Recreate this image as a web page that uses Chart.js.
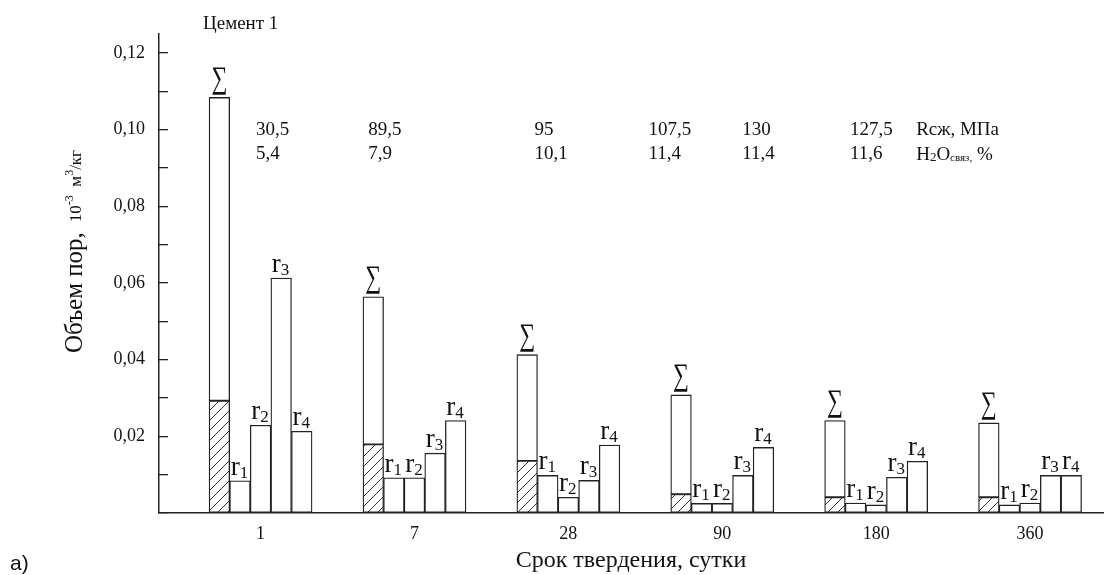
<!DOCTYPE html>
<html lang="ru">
<head>
<meta charset="utf-8">
<title>Объем пор - Цемент 1</title>
<script src="https://cdn.jsdelivr.net/npm/chart.js@4.4.1/dist/chart.umd.min.js"></script>
<style>
  html, body { margin: 0; padding: 0; background: #fff; }
  #poreChart { display: block; }
</style>
</head>
<body>
<canvas id="poreChart" width="1105" height="575"></canvas>
<script>
// Срок твердения, сутки
const days = ['1', '7', '28', '90', '180', '360'];

// Объем пор, 10^-3 м3/кг
const totalPores = [0.1084, 0.0564, 0.0413, 0.0308, 0.0241, 0.0235];
const hatchedPores = [0.0293, 0.0179, 0.0136, 0.0049, 0.0041, 0.0041];
const poresR1 = [0.0084, 0.0092, 0.0098, 0.0025, 0.0026, 0.0021];
const poresR2 = [0.0229, 0.0092, 0.0041, 0.0025, 0.0021, 0.0026];
const poresR3 = [0.0613, 0.0156, 0.0085, 0.0098, 0.0093, 0.0098];
const poresR4 = [0.0213, 0.0241, 0.0177, 0.0171, 0.0135, 0.0098];

// Rсж, МПа и H2O связ, %
const strengthLabels = ['30,5', '89,5', '95', '107,5', '130', '127,5'];
const waterLabels = ['5,4', '7,9', '10,1', '11,4', '11,4', '11,6'];

const yTickLabels = ['0,02', '0,04', '0,06', '0,08', '0,10', '0,12'];

// где стоят подписи (в единицах осей)
const noteColumns = [0.97, 1.70, 2.78, 3.52, 4.13, 4.83];
const unitsColumn = 5.26;
const noteRows = [0.0998, 0.0936];

const SERIF = '"Liberation Serif", "Times New Roman", serif';
const INK = '#111';
const LINE = '#222';

const canvas = document.getElementById('poreChart');
const ctx = canvas.getContext('2d');

// штриховка нижней части столбика
function makeHatch() {
    const c = document.createElement('canvas');
    c.width = 10;
    c.height = 10;
    const g = c.getContext('2d');
    g.fillStyle = '#fff';
    g.fillRect(0, 0, 10, 10);
    g.strokeStyle = '#333';
    g.lineWidth = 1;
    g.beginPath();
    g.moveTo(0, 10); g.lineTo(10, 0);
    g.moveTo(-1, 1); g.lineTo(1, -1);
    g.moveTo(9, 11); g.lineTo(11, 9);
    g.stroke();
    return ctx.createPattern(c, 'repeat');
}

const toPoints = (arr) => arr.map((v, i) => ({ x: i + 1, y: v }));

const barStyle = {
    backgroundColor: '#fff',
    borderColor: LINE,
    borderWidth: 1.3,
    borderSkipped: false,
    barThickness: 20.6
};

const textPlugin = {
    id: 'poreTexts',
    afterDraw(chart) {
        const { ctx, scales } = chart;
        ctx.save();
        ctx.fillStyle = INK;
        ctx.textBaseline = 'alphabetic';

        // знак суммы над общим столбиком (узкий и высокий)
        ctx.font = '28px ' + SERIF;
        ctx.textAlign = 'center';
        const sm = ctx.measureText('∑');
        chart.getDatasetMeta(1).data.forEach(bar => {
            ctx.save();
            ctx.translate(bar.x, bar.y - 3);
            ctx.scale(0.8, 1.12);
            ctx.fillText('∑', 0, -sm.actualBoundingBoxDescent);
            ctx.restore();
        });

        // r1..r4
        ctx.textAlign = 'left';
        ['1', '2', '3', '4'].forEach((n, k) => {
            chart.getDatasetMeta(k + 2).data.forEach(bar => {
                const left = bar.x - bar.width / 2 + 1;
                ctx.font = '27px ' + SERIF;
                ctx.fillText('r', left, bar.y - 6);
                const w = ctx.measureText('r').width;
                ctx.font = '17px ' + SERIF;
                ctx.fillText(n, left + w, bar.y - 3);
            });
        });

        // прочность и связанная вода
        ctx.font = '19px ' + SERIF;
        ctx.textBaseline = 'middle';
        const yTop = scales.y.getPixelForValue(noteRows[0]);
        const yBot = scales.y.getPixelForValue(noteRows[1]);
        noteColumns.forEach((col, i) => {
            const px = scales.x.getPixelForValue(col);
            ctx.fillText(strengthLabels[i], px, yTop);
            ctx.fillText(waterLabels[i], px, yBot);
        });
        const ux = scales.x.getPixelForValue(unitsColumn);
        ctx.fillText('Rсж, МПа', ux, yTop);
        let hx = ux;
        [['H', 19, 0], ['2', 13, 1], ['O', 19, 0], ['связ,', 11, 1], [' %', 19, 0]].forEach(([t, size, dy]) => {
            ctx.font = size + 'px ' + SERIF;
            ctx.textBaseline = 'alphabetic';
            ctx.fillText(t, hx, yBot + 6 + dy);
            hx += ctx.measureText(t).width;
        });

        // заголовок
        ctx.font = '19px ' + SERIF;
        ctx.textBaseline = 'middle';
        ctx.fillText('Цемент 1', 203, 24);

        // a)
        ctx.font = '21px "Liberation Sans", Arial, sans-serif';
        ctx.textBaseline = 'alphabetic';
        ctx.fillText('a)', 10, 570);

        // подпись оси Y
        ctx.translate(82, 353);
        ctx.rotate(-Math.PI / 2);
        ctx.font = '25px ' + SERIF;
        ctx.fillText('Объем пор,', 0, 0);
        let tx = ctx.measureText('Объем пор,').width + 10;
        [['10', 17, -1], ['-3', 12, -9], ['  м', 17, -1], ['3', 12, -9], ['/кг', 17, -1]].forEach(([t, size, dy]) => {
            ctx.font = size + 'px ' + SERIF;
            ctx.fillText(t, tx, dy);
            tx += ctx.measureText(t).width;
        });
        ctx.restore();
    }
};

const poreChart = new Chart(ctx, {
    type: 'bar',
    data: {
        datasets: [
            { ...barStyle, label: 'Σ (штрих)', data: toPoints(hatchedPores), stack: 'sum', backgroundColor: makeHatch() },
            { ...barStyle, label: 'Σ', data: toPoints(totalPores.map((t, i) => t - hatchedPores[i])), stack: 'sum' },
            { ...barStyle, label: 'r1', data: toPoints(poresR1), stack: 'r1' },
            { ...barStyle, label: 'r2', data: toPoints(poresR2), stack: 'r2' },
            { ...barStyle, label: 'r3', data: toPoints(poresR3), stack: 'r3' },
            { ...barStyle, label: 'r4', data: toPoints(poresR4), stack: 'r4' }
        ]
    },
    options: {
        responsive: false,
        animation: false,
        layout: { padding: { top: 32, right: 2, left: 0, bottom: 0 } },
        plugins: {
            legend: { display: false },
            tooltip: { enabled: false }
        },
        scales: {
            x: {
                type: 'linear',
                offset: false,
                min: 0.34,
                max: 6.474,
                afterBuildTicks: (scale) => {
                    scale.ticks = days.map((d, i) => ({ value: i + 1 }));
                },
                afterFit: (scale) => { scale.height = 62; },
                ticks: {
                    autoSkip: false,
                    maxRotation: 0,
                    padding: 10,
                    color: INK,
                    font: { family: SERIF, size: 18 },
                    callback: (value) => days[Math.round(value) - 1] || ''
                },
                grid: { offset: false, drawOnChartArea: false, drawTicks: false },
                border: { color: LINE, width: 1.5 },
                title: {
                    display: true,
                    text: 'Срок твердения, сутки',
                    color: INK,
                    font: { family: SERIF, size: 24 },
                    padding: { top: 0, bottom: 0 }
                }
            },
            y: {
                stacked: true,
                min: 0,
                max: 0.125,
                afterFit: (scale) => { scale.width = 159; },
                ticks: {
                    stepSize: 0.01,
                    includeBounds: false,
                    autoSkip: false,
                    padding: 23,
                    color: INK,
                    font: { family: SERIF, size: 18 },
                    callback: (value) => {
                        const k = Math.round(value * 100);
                        if (k === 0 || k % 2) return '';
                        return yTickLabels[k / 2 - 1];
                    }
                },
                grid: { drawOnChartArea: false, tickLength: -9, color: LINE, lineWidth: 1.3 },
                border: { color: LINE, width: 1.5 }
            }
        }
    },
    plugins: [textPlugin]
});
</script>
</body>
</html>
